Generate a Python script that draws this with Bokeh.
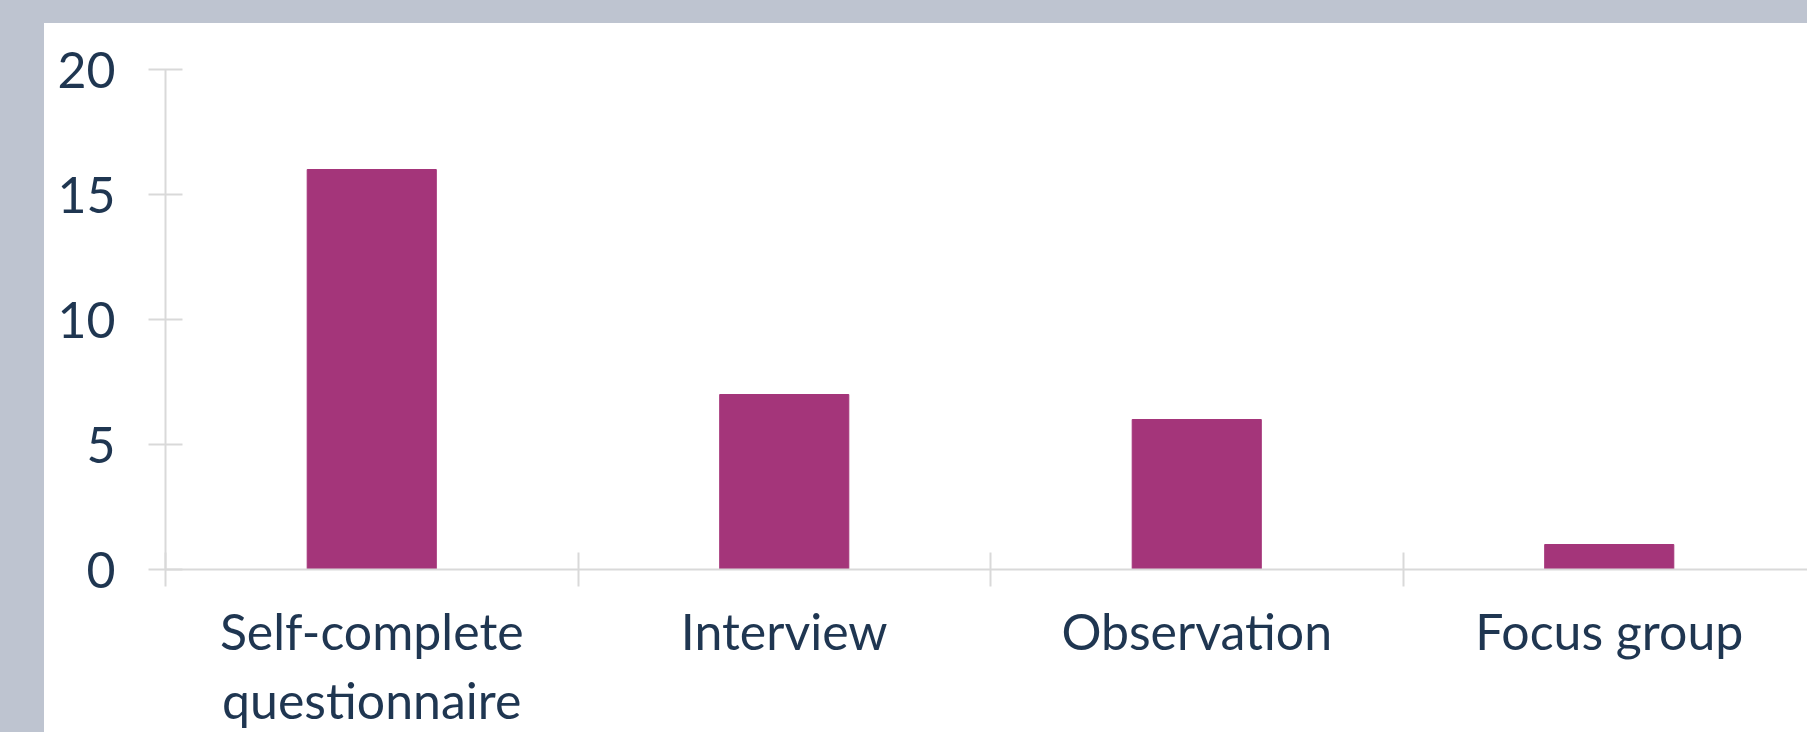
from bokeh.plotting import figure
from bokeh.models import Range1d, FixedTicker, Div
from bokeh.layouts import column, row
from bokeh.embed import file_html
from bokeh.resources import INLINE

# ---- data ----
categories = ["Self-complete\nquestionnaire", "Interview", "Observation", "Focus group"]
counts = [16, 7, 6, 1]
y_ticks = [0, 5, 10, 15, 20]

# ---- styles ----
BAR = "#A4357A"
TEXT = "#1F3651"
AXIS = "#D9D9D9"
BAND = "#BEC4D0"
FONT = "Lato"

positions = [i + 1 for i in range(len(categories))]
boundaries = [i + 0.5 for i in range(len(categories) + 1)]

BAND_W, BAND_H = 44, 23
FIG_W, FIG_H = 1807 - BAND_W, 732 - BAND_H
LEFT, TOP = 121, 46
px_per_cat = 412.5

p = figure(width=FIG_W, height=FIG_H, output_backend="svg", toolbar_location=None,
           x_range=Range1d(0.5, 0.5 + (FIG_W - LEFT) / px_per_cat),
           y_range=Range1d(0, 20),
           min_border_left=LEFT, min_border_right=0, min_border_top=TOP, min_border_bottom=0)
p.background_fill_color = "white"
p.border_fill_color = "white"
p.outline_line_color = None
p.xgrid.visible = False
p.ygrid.visible = False

p.vbar(x=positions, top=counts, width=0.313, color=BAR)

# x axis
xa = p.xaxis[0]
xa.ticker = FixedTicker(ticks=positions, minor_ticks=boundaries)
xa.major_label_overrides = {pos: lab for pos, lab in zip(positions, categories)}
xa.major_tick_line_color = None
xa.major_tick_in = 0
xa.major_tick_out = 17
xa.minor_tick_in = 17
xa.minor_tick_out = 17
xa.minor_tick_line_color = AXIS
xa.minor_tick_line_width = 2
xa.axis_line_color = AXIS
xa.axis_line_width = 2
xa.major_label_standoff = 14
xa.major_label_text_font = FONT
xa.major_label_text_font_size = "50px"
xa.major_label_text_line_height = 1.15
xa.major_label_text_color = TEXT

# y axis
ya = p.yaxis[0]
ya.ticker = FixedTicker(ticks=y_ticks)
ya.major_tick_in = 17
ya.major_tick_out = 17
ya.major_tick_line_color = AXIS
ya.major_tick_line_width = 2
ya.minor_tick_line_color = None
ya.axis_line_color = AXIS
ya.axis_line_width = 2
ya.major_label_standoff = 33
ya.major_label_text_font = FONT
ya.major_label_text_font_size = "50px"
ya.major_label_text_color = TEXT

top_band = Div(text="", width=1807, height=BAND_H, margin=0,
               styles={"background-color": BAND})
left_band = Div(text="", width=BAND_W, height=FIG_H, margin=0,
                styles={"background-color": BAND})

layout = column(top_band, row(left_band, p, spacing=0), spacing=0)

open("out.html", "w").write(file_html(layout, INLINE))
